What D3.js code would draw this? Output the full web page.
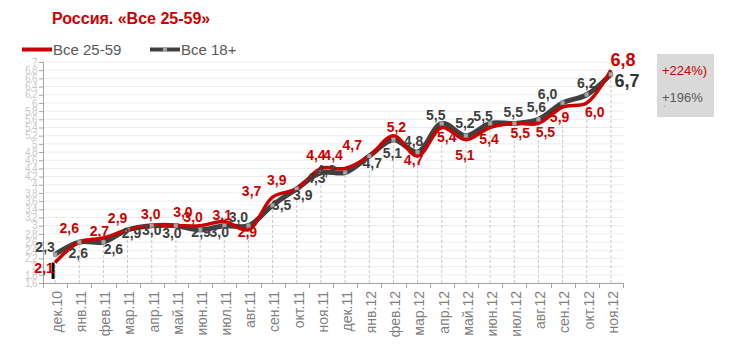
<!DOCTYPE html>
<html>
<head>
<meta charset="utf-8">
<script src="https://cdn.jsdelivr.net/npm/d3@7/dist/d3.min.js"></script>
<style>
  body { margin: 0; background: #fff; font-family: Arial, "Liberation Sans", sans-serif; }
</style>
</head>
<body>
<div id="chart"></div>
<script>
// Данные
const months = ["дек.10", "янв.11", "фев.11", "мар.11", "апр.11", "май.11", "июн.11", "июл.11",
  "авг.11", "сен.11", "окт.11", "ноя.11", "дек.11", "янв.12", "фев.12", "мар.12", "апр.12",
  "май.12", "июн.12", "июл.12", "авг.12", "сен.12", "окт.12", "ноя.12"];
const all2559 = [2.1, 2.6, 2.7, 2.9, 3.0, 3.0, 3.0, 3.1, 2.9, 3.7, 3.9, 4.4, 4.4, 4.7, 5.2, 4.7,
  5.4, 5.1, 5.4, 5.5, 5.5, 5.9, 6.0, 6.8];
const all18 = [2.3, 2.6, 2.6, 2.9, 3.0, 3.0, 2.9, 3.0, 3.0, 3.5, 3.9, 4.3, 4.3, 4.7, 5.1, 4.8,
  5.5, 5.2, 5.5, 5.5, 5.6, 6.0, 6.2, 6.7];
const yTicks = [1.6, 1.8, 2, 2.2, 2.4, 2.6, 2.8, 3, 3.2, 3.4, 3.6, 3.8, 4, 4.2, 4.4, 4.6, 4.8,
  5, 5.2, 5.4, 5.6, 5.8, 6, 6.2, 6.4, 6.6, 6.8, 7];
const seriesNames = ["Все 25-59", "Все 18+"];
const growthLabels = ["+224%)", "+196%"];
const title = "Россия. «Все 25-59»";

// смещения подписей значений [dx, dy] (как в исходной картинке)
const redLabelPos = [[-11, 10], [-10, -9], [-4, -2], [-10, -7], [-1, -7], [7, -9], [-7, -4],
  [-2, -2], [-1, 7], [-21, -1], [-20, -4], [-5, -8], [-12, -8], [-17, -6], [3, -4], [-4, 9],
  [5, 15], [-1, 20], [-1, 17], [6, 15], [7, 14], [-3, 15], [8, 14], [12, -4]];
const grayLabelPos = [[-10, -2], [-1, 16], [10, 12], [4, 8], [0, 9], [-4, 12], [1, 7],
  [-5, 11], [-10, -4], [9, 5], [6, 11], [-5, 10], [-19, 2], [3, 12], [-1, 18], [-4, -6],
  [-6, -3], [-1, -8], [-7, -2], [-1, -6], [-2, -7], [-15, -4], [0, -7], [16, 13]];

const red = "#cc0000";
const dark = "#404040";

const width = 729;
const height = 354;
const plot = { left: 43, right: 623, top: 62, bottom: 283 };

const svg = d3.select("#chart")
  .append("svg")
  .attr("width", width)
  .attr("height", height);

const x = d3.scaleBand()
  .domain(months)
  .range([plot.left, plot.right]);

const y = d3.scaleLinear()
  .domain([1.6, 7])
  .range([plot.bottom, plot.top]);

const tickFmt = (v) => String(+v.toFixed(1)).replace(".", ",");
const valFmt = (v) => v.toFixed(1).replace(".", ",");
const px = (i) => x(months[i]) + x.bandwidth() / 2;

// Сетка
svg.append("g")
  .selectAll("line")
  .data(yTicks)
  .enter()
  .append("line")
  .attr("x1", plot.left)
  .attr("x2", plot.right)
  .attr("y1", (d) => y(d))
  .attr("y2", (d) => y(d))
  .style("stroke", "#ececec")
  .style("stroke-width", 1);

// Вертикальные пунктиры до точек
svg.append("g")
  .selectAll("line")
  .data(months)
  .enter()
  .append("line")
  .attr("x1", (d, i) => px(i))
  .attr("x2", (d, i) => px(i))
  .attr("y1", plot.bottom)
  .attr("y2", (d, i) => Math.min(y(all2559[i]), y(all18[i])))
  .style("stroke", "#c8c8c8")
  .style("stroke-dasharray", "3,2")
  .style("stroke-width", 1);

// Ось Y
const yAxis = svg.append("g")
  .attr("transform", `translate(${plot.left},0)`)
  .call(d3.axisLeft(y).tickValues(yTicks).tickSize(4).tickPadding(2).tickFormat(tickFmt));
yAxis.select(".domain").style("stroke", "#a6a6a6");
yAxis.selectAll(".tick line").style("stroke", "#a6a6a6");
yAxis.selectAll("text")
  .style("fill", "#c8c8c8")
  .style("font-size", "10px")
  .style("letter-spacing", "-0.6px")
  .style("font-family", "Arial, 'Liberation Sans', sans-serif");

// Ось X
svg.append("line")
  .attr("x1", plot.left)
  .attr("x2", plot.right)
  .attr("y1", plot.bottom + 0.5)
  .attr("y2", plot.bottom + 0.5)
  .style("stroke", "#a6a6a6");

svg.append("g")
  .selectAll("line")
  .data(d3.range(months.length + 1))
  .enter()
  .append("line")
  .attr("x1", (i) => Math.round(plot.left + i * x.step()) + 0.5)
  .attr("x2", (i) => Math.round(plot.left + i * x.step()) + 0.5)
  .attr("y1", plot.bottom)
  .attr("y2", plot.bottom + 5)
  .style("stroke", "#a6a6a6");

svg.append("g")
  .selectAll("text")
  .data(months)
  .enter()
  .append("text")
  .attr("transform", (d, i) => `translate(${px(i) + 2},${plot.bottom + 8}) rotate(-90)`)
  .attr("text-anchor", "end")
  .attr("dy", "0.35em")
  .style("font-size", "14px")
  .style("fill", "#7f7f7f")
  .text((d) => d);

// Линии
const line = d3.line()
  .x((d, i) => px(i))
  .y((d) => y(d))
  .curve(d3.curveCatmullRom.alpha(0.5));

svg.append("path")
  .datum(all18)
  .attr("d", line)
  .style("fill", "none")
  .style("stroke", dark)
  .style("stroke-width", 5);

svg.append("path")
  .datum(all2559)
  .attr("d", line)
  .style("fill", "none")
  .style("stroke", red)
  .style("stroke-width", 3.5);

// Маркеры серой линии
svg.append("g")
  .selectAll("rect")
  .data(all18)
  .enter()
  .append("rect")
  .attr("x", (d, i) => px(i) - 2)
  .attr("y", (d) => y(d) - 2)
  .attr("width", 4)
  .attr("height", 4)
  .style("fill", "#a6a6a6")
  .style("stroke", "#7f7f7f")
  .style("stroke-width", 0.5);

// Чёрная черта у первой точки
svg.append("line")
  .attr("x1", px(0) - 2)
  .attr("x2", px(0) - 2)
  .attr("y1", y(all2559[0]))
  .attr("y2", y(1.7))
  .style("stroke", "#000")
  .style("stroke-width", 3);

// Подписи значений
const last = months.length - 1;
svg.append("g")
  .selectAll("text")
  .data(all18)
  .enter()
  .append("text")
  .attr("x", (d, i) => px(i) + grayLabelPos[i][0])
  .attr("y", (d, i) => y(d) + grayLabelPos[i][1])
  .attr("text-anchor", "middle")
  .style("font-size", (d, i) => (i === last ? "18px" : "14px"))
  .style("font-weight", "bold")
  .style("fill", (d, i) => (i === last ? "#333" : dark))
  .text((d) => valFmt(d));

svg.append("g")
  .selectAll("text")
  .data(all2559)
  .enter()
  .append("text")
  .attr("x", (d, i) => px(i) + redLabelPos[i][0])
  .attr("y", (d, i) => y(d) + redLabelPos[i][1])
  .attr("text-anchor", "middle")
  .style("font-size", (d, i) => (i === last ? "18px" : "14px"))
  .style("font-weight", "bold")
  .style("fill", red)
  .text((d) => valFmt(d));

// Заголовок
svg.append("text")
  .attr("x", 52)
  .attr("y", 24)
  .style("font-size", "16px")
  .style("font-weight", "bold")
  .style("fill", red)
  .text(title);

// Легенда
const legend = svg.append("g");
legend.append("line")
  .attr("x1", 22).attr("x2", 52).attr("y1", 49.5).attr("y2", 49.5)
  .style("stroke", red).style("stroke-width", 4);
legend.append("text")
  .attr("x", 53).attr("y", 55)
  .style("font-size", "15px").style("fill", "#595959")
  .text(seriesNames[0]);
legend.append("line")
  .attr("x1", 150).attr("x2", 180).attr("y1", 49.5).attr("y2", 49.5)
  .style("stroke", dark).style("stroke-width", 4);
legend.append("rect")
  .attr("x", 163).attr("y", 47.5).attr("width", 4).attr("height", 4)
  .style("fill", "#a6a6a6");
legend.append("text")
  .attr("x", 181).attr("y", 55)
  .style("font-size", "15px").style("fill", "#595959")
  .text(seriesNames[1]);

// Плашка с приростом
const box = svg.append("g");
box.append("rect")
  .attr("x", 657).attr("y", 54).attr("width", 57).attr("height", 63)
  .style("fill", "#d9d9d9");
box.append("text")
  .attr("x", 662).attr("y", 75)
  .style("font-size", "13px").style("fill", red)
  .text(growthLabels[0]);
box.append("text")
  .attr("x", 662).attr("y", 102)
  .style("font-size", "13px").style("fill", "#595959")
  .text(growthLabels[1]);
box.append("text")
  .attr("x", 663).attr("y", 111)
  .style("font-size", "8px").style("fill", "#595959")
  .text("`");
</script>
</body>
</html>
